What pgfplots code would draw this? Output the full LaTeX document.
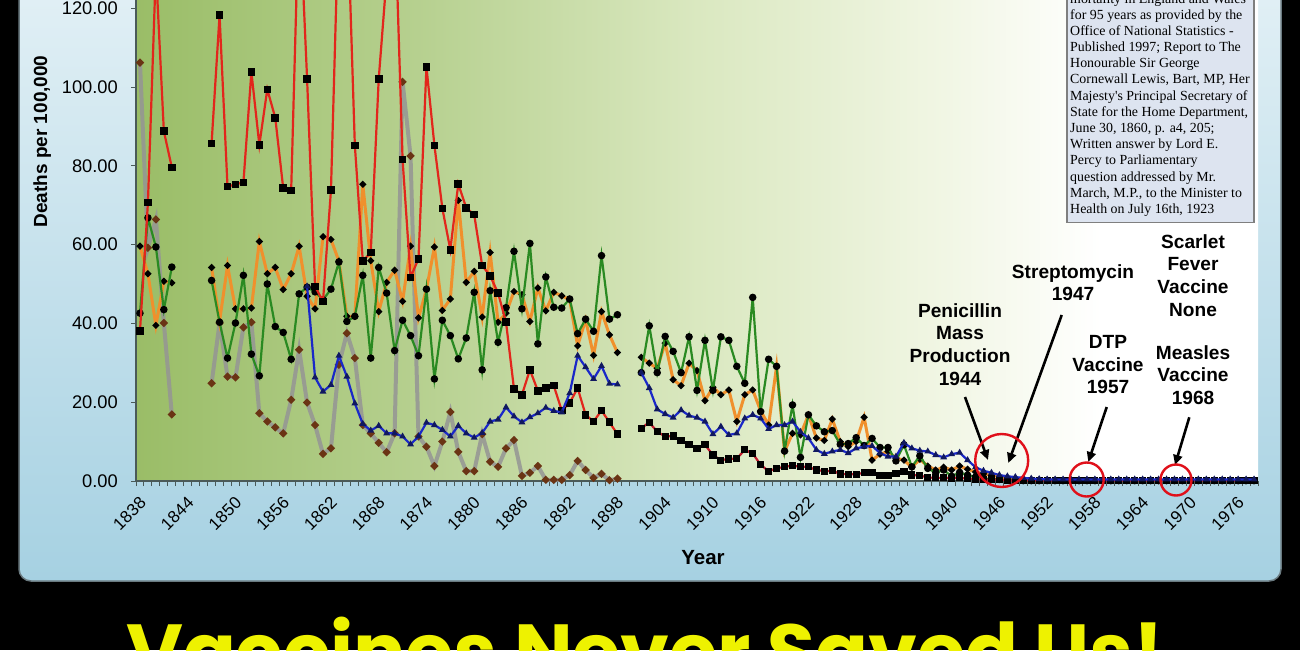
\documentclass[border=0pt]{standalone}
\usepackage{pgfplots}
\pgfplotsset{compat=1.18}
\usepackage{fontspec}
\setmainfont{Liberation Sans}
\newfontfamily\boxfont{Liberation Serif}
\newfontfamily\popfont{Poppins}
\usetikzlibrary{arrows.meta}

\definecolor{redA}{HTML}{E2261C}
\definecolor{redB}{HTML}{C01A2E}
\definecolor{orangeA}{HTML}{F0902C}
\definecolor{greenA}{HTML}{2A8A22}
\definecolor{blueA}{HTML}{1A28C8}
\definecolor{navyA}{HTML}{101860}
\definecolor{grayA}{HTML}{959595}
\definecolor{brownA}{HTML}{6A3414}
\definecolor{axiscol}{HTML}{4A5A58}
\definecolor{g0}{HTML}{9ABD67}
\definecolor{g1}{HTML}{B6D08F}
\definecolor{g2}{HTML}{DAE8C0}
\definecolor{g3}{HTML}{F1F6E4}
\definecolor{frameTop}{HTML}{E4F1F6}
\definecolor{frameBot}{HTML}{A6D1E2}
\definecolor{framecol}{HTML}{6A7A80}
\definecolor{boxfill}{HTML}{DDE4F0}
\definecolor{boxdraw}{HTML}{7F7F7F}
\definecolor{circred}{HTML}{E0101A}
\definecolor{yell}{HTML}{EEF200}

\pgfdeclarehorizontalshading{plotbg}{100bp}{color(0bp)=(g0); color(25bp)=(g0); color(37.5bp)=(g1); color(50bp)=(g2); color(61bp)=(g3); color(68bp)=(white); color(100bp)=(white)}

\newcommand\annfont{\fontsize{19.1}{22}\selectfont\bfseries}
\newcommand\bx{\boxfont\fontsize{13.9}{16}\selectfont}

\begin{document}
\begin{tikzpicture}
\useasboundingbox (0,0) rectangle (1300pt,-650pt);
\clip (0,0) rectangle (1300pt,-650pt);
\begin{scope}[x=1pt,y=-1pt]
\fill[black] (0,0) rectangle (1300,650);
\draw[rounded corners=12pt, line width=1.5pt, draw=framecol, top color=frameTop, bottom color=frameBot] (19,-40) rectangle (1281,581);
\end{scope}

\begin{axis}[
  at={(136pt,-481pt)}, anchor=south west,
  scale only axis, width=1122pt, height=551.6pt,
  xmin=1837.5, xmax=1978.5, ymin=0, ymax=140,
  axis lines=left,
  axis line style={-, draw=axiscol, line width=1.2pt},
  axis background/.style={shading=plotbg},
  xtick={1838,1844,...,1976},
  minor xtick={1837.5,1838.5,...,1978.5},
  ytick={0,20,...,140},
  minor ytick={0,20,...,140},
  major tick length=0pt, minor tick length=5pt, tick align=outside,
  tick style={draw=axiscol, line width=1pt},
  xticklabel style={font=\fontsize{17}{17}\selectfont, inner sep=0pt, anchor=east, xshift=3pt, yshift=-19pt, rotate=45},
  yticklabel style={font=\fontsize{18.3}{18.3}\selectfont, inner sep=0pt, anchor=east, xshift=-18pt},
  x tick label style={/pgf/number format/1000 sep={}},
  y tick label style={/pgf/number format/.cd, fixed, fixed zerofill, precision=2},
  /pgf/number format/assume math mode=true,
  unbounded coords=jump,
  clip mode=individual,
]
% gray series
\addplot[draw=grayA, draw opacity=0.85, line width=4pt, mark=*, mark size=1.4pt, mark options={fill=brownA, draw=brownA, opacity=1}] coordinates {
(1838,106.2)(1839,59.2)(1840,66.4)(1841,40.1)(1842,16.9)(1843,nan)
(1847,24.8)(1848,40.1)(1849,26.5)(1850,26.3)(1851,39.0)(1852,40.3)(1853,17.2)(1854,15.1)(1855,13.6)(1856,12.1)(1857,20.6)(1858,33.3)(1859,19.9)(1860,14.2)(1861,6.9)(1862,8.3)(1863,29.5)(1864,37.5)(1865,31.2)(1866,14.2)(1867,12.1)(1868,9.7)(1869,7.3)(1870,12.1)(1871,101.3)(1872,82.5)(1873,11.3)(1874,8.7)(1875,3.8)(1876,10.0)(1877,17.5)(1878,7.4)(1879,2.5)(1880,2.5)(1881,11.9)(1882,4.9)(1883,3.6)(1884,8.3)(1885,10.4)(1886,1.3)(1887,2.1)(1888,3.8)(1889,0.3)(1890,0.3)(1891,0.3)(1892,1.5)(1893,5.1)(1894,2.8)(1895,0.8)(1896,1.8)(1897,0.2)(1898,0.6)
};
% orange series
\addplot[draw=orangeA, line width=3pt, mark=*, mark size=1.6pt, mark options={fill=black, draw=black}] coordinates {
(1838,59.6)(1839,52.6)(1840,39.5)(1841,50.7)(1842,50.3)(1843,nan)
(1847,54.2)(1848,40.5)(1849,54.7)(1850,43.7)(1851,43.7)(1852,43.9)(1853,60.8)(1854,52.6)(1855,54.2)(1856,48.6)(1857,52.6)(1858,59.6)(1859,46.9)(1860,43.7)(1861,62.0)(1862,61.3)(1863,55.8)(1864,41.8)(1865,41.8)(1866,75.3)(1867,55.9)(1868,43.0)(1869,50.4)(1870,53.5)(1871,45.6)(1872,59.6)(1873,41.4)(1874,48.6)(1875,59.4)(1876,43.3)(1877,46.2)(1878,71.2)(1879,50.4)(1880,53.2)(1881,41.6)(1882,58.0)(1883,40.3)(1884,42.6)(1885,48.1)(1886,47.3)(1887,40.5)(1888,49.0)(1889,43.2)(1890,47.9)(1891,47.0)(1892,46.0)(1893,34.3)(1894,40.9)(1895,31.9)(1896,43.0)(1897,37.1)(1898,32.6)(1899,nan)
(1901,31.4)(1902,29.9)(1903,28.6)(1904,35.0)(1905,25.7)(1906,24.2)(1907,29.9)(1908,28.0)(1909,20.4)(1910,23.8)(1911,21.9)(1912,23.1)(1913,15.1)(1914,21.9)(1915,23.1)(1916,17.8)(1917,14.2)(1918,29.1)(1919,7.5)(1920,12.1)(1921,11.7)(1922,16.8)(1923,10.9)(1924,10.3)(1925,15.7)(1926,10.0)(1927,8.7)(1928,10.0)(1929,16.2)(1930,5.3)(1931,6.8)(1932,7.5)(1933,5.8)(1934,5.3)(1935,3.5)(1936,5.5)(1937,3.8)(1938,2.8)(1939,3.5)(1940,2.8)(1941,3.8)(1942,3.0)(1943,2.3)(1944,1.8)(1945,1.4)(1946,1.1)(1947,0.9)(1948,0.7)(1949,0.5)(1950,0.4)(1951,0.3)(1952,0.25)(1953,0.2)(1954,0.15)(1955,0.15)(1956,0.15)(1957,0.15)(1958,0.15)(1959,0.15)(1960,0.15)(1961,0.15)(1962,0.15)(1963,0.15)(1964,0.15)(1965,0.15)(1966,0.15)(1967,0.15)(1968,0.15)(1969,0.15)(1970,0.15)(1971,0.15)(1972,0.15)(1973,0.15)(1974,0.15)(1975,0.15)(1976,0.15)(1977,0.15)(1978,0.15)
};
% green series
\addplot[draw=greenA, line width=2.2pt, mark=*, mark size=2.6pt, mark options={fill=black, draw=black}] coordinates {
(1838,42.6)(1839,66.8)(1840,59.4)(1841,43.5)(1842,54.3)(1843,nan)
(1847,50.9)(1848,40.3)(1849,31.2)(1850,40.1)(1851,52.2)(1852,32.2)(1853,26.7)(1854,50.0)(1855,39.2)(1856,37.7)(1857,30.9)(1858,47.5)(1859,49.2)(1860,48.0)(1861,46.0)(1862,48.7)(1863,55.6)(1864,40.5)(1865,41.8)(1866,52.2)(1867,31.2)(1868,54.2)(1869,47.7)(1870,33.1)(1871,40.8)(1872,36.9)(1873,31.8)(1874,48.7)(1875,25.9)(1876,40.8)(1877,36.9)(1878,31.0)(1879,36.3)(1880,47.9)(1881,28.2)(1882,48.3)(1883,35.2)(1884,44.0)(1885,58.3)(1886,43.7)(1887,60.3)(1888,34.8)(1889,51.8)(1890,44.1)(1891,43.9)(1892,46.2)(1893,37.4)(1894,41.1)(1895,38.0)(1896,57.2)(1897,41.1)(1898,42.2)(1899,nan)
(1901,27.5)(1902,39.4)(1903,27.5)(1904,36.7)(1905,32.9)(1906,27.5)(1907,36.6)(1908,23.0)(1909,35.7)(1910,23.0)(1911,36.6)(1912,35.7)(1913,29.1)(1914,24.8)(1915,46.6)(1916,17.6)(1917,30.9)(1918,29.1)(1919,7.6)(1920,19.3)(1921,6.0)(1922,16.8)(1923,14.0)(1924,12.5)(1925,12.8)(1926,9.3)(1927,9.5)(1928,11.0)(1929,9.0)(1930,10.8)(1931,8.5)(1932,8.5)(1933,5.1)(1934,9.2)(1935,3.6)(1936,6.4)(1937,3.2)(1938,2.1)(1939,2.8)(1940,1.2)(1941,2.2)(1942,1.5)(1943,1.0)(1944,0.7)(1945,0.5)(1946,0.4)(1947,0.3)(1948,0.2)(1949,0.1)(1950,0.1)(1951,0.1)(1952,0.1)(1953,0.1)(1954,0.1)(1955,0.1)(1956,0.1)(1957,0.1)(1958,0.1)(1959,0.1)(1960,0.1)(1961,0.1)(1962,0.1)(1963,0.1)(1964,0.1)(1965,0.1)(1966,0.1)(1967,0.1)(1968,0.1)(1969,0.1)(1970,0.1)(1971,0.1)(1972,0.1)(1973,0.1)(1974,0.1)(1975,0.1)(1976,0.1)(1977,0.1)(1978,0.1)
};
% red series (19th century)
\addplot[draw=redA, line width=2.2pt, mark=square*, mark size=2.7pt, mark options={fill=black, draw=black}] coordinates {
(1838,38.0)(1839,70.7)(1840,130)(1841,88.8)(1842,79.6)(1843,nan)
(1847,85.7)(1848,118.2)(1849,74.7)(1850,75.3)(1851,75.8)(1852,103.8)(1853,85.3)(1854,99.4)(1855,92.2)(1856,74.3)(1857,73.7)(1858,148)(1859,102.1)(1860,49.4)(1861,45.6)(1862,73.8)(1863,146)(1864,149)(1865,85.2)(1866,55.8)(1867,58.0)(1868,102.0)(1869,128)(1870,146)(1871,81.6)(1872,51.7)(1873,56.4)(1874,105.1)(1875,85.2)(1876,69.2)(1877,58.7)(1878,75.4)(1879,69.3)(1880,67.6)(1881,54.7)(1882,52.1)(1883,47.7)(1884,40.3)(1885,23.4)(1886,21.9)(1887,28.2)(1888,22.9)(1889,23.6)(1890,24.2)(1891,17.9)(1892,19.8)(1893,23.6)(1894,16.8)(1895,15.1)(1896,17.9)(1897,14.9)(1898,11.9)
};
% red series (20th century)
\addplot[draw=redB, line width=2.2pt, mark=square*, mark size=2.5pt, mark options={fill=black, draw=black}] coordinates {
(1901,13.4)(1902,14.9)(1903,12.5)(1904,11.3)(1905,11.4)(1906,10.2)(1907,9.3)(1908,8.3)(1909,9.2)(1910,6.6)(1911,5.3)(1912,5.6)(1913,5.7)(1914,7.9)(1915,7.0)(1916,4.1)(1917,2.5)(1918,3.2)(1919,3.6)(1920,3.9)(1921,3.6)(1922,3.6)(1923,2.8)(1924,2.5)(1925,2.6)(1926,1.8)(1927,1.7)(1928,1.7)(1929,2.1)(1930,2.1)(1931,1.4)(1932,1.4)(1933,2.0)(1934,2.5)(1935,1.5)(1936,1.4)(1937,0.9)(1938,0.8)(1939,0.8)(1940,0.7)(1941,0.8)(1942,0.6)(1943,0.5)(1944,0.4)(1945,0.3)(1946,0.3)(1947,0.2)(1948,0.1)(1949,0.1)(1950,0.1)(1951,0.1)(1952,0.1)(1953,0.1)(1954,0.1)(1955,0.1)(1956,0.1)(1957,0.1)(1958,0.1)(1959,0.1)(1960,0.1)(1961,0.1)(1962,0.1)(1963,0.1)(1964,0.1)(1965,0.1)(1966,0.1)(1967,0.1)(1968,0.1)(1969,0.1)(1970,0.1)(1971,0.1)(1972,0.1)(1973,0.1)(1974,0.1)(1975,0.1)(1976,0.1)(1977,0.1)(1978,0.1)
};
% blue series
\addplot[draw=blueA, line width=2.2pt, mark=triangle*, mark size=1.8pt, mark options={fill=navyA, draw=navyA}] coordinates {
(1859,49.4)(1860,26.3)(1861,22.7)(1862,24.4)(1863,31.8)(1864,26.5)(1865,19.7)(1866,14.5)(1867,12.8)(1868,14.0)(1869,12.1)(1870,12.1)(1871,11.3)(1872,9.3)(1873,11.3)(1874,14.8)(1875,14.2)(1876,13.0)(1877,11.3)(1878,14.0)(1879,12.1)(1880,11.0)(1881,12.2)(1882,15.1)(1883,15.6)(1884,18.7)(1885,16.4)(1886,14.9)(1887,16.2)(1888,17.2)(1889,18.6)(1890,17.8)(1891,17.4)(1892,22.3)(1893,31.8)(1894,28.9)(1895,25.9)(1896,29.2)(1897,24.7)(1898,24.5)(1899,nan)
(1901,27.5)(1902,23.6)(1903,18.2)(1904,17.0)(1905,16.1)(1906,18.0)(1907,16.6)(1908,16.1)(1909,15.1)(1910,11.9)(1911,13.8)(1912,11.7)(1913,12.1)(1914,15.9)(1915,16.8)(1916,15.9)(1917,13.2)(1918,14.2)(1919,14.2)(1920,15.1)(1921,12.5)(1922,10.9)(1923,7.9)(1924,6.9)(1925,7.5)(1926,7.9)(1927,7.1)(1928,8.3)(1929,8.7)(1930,8.9)(1931,7.1)(1932,6.2)(1933,6.2)(1934,9.7)(1935,8.3)(1936,7.7)(1937,7.5)(1938,6.6)(1939,6.0)(1940,6.8)(1941,7.2)(1942,5.3)(1943,3.5)(1944,2.6)(1945,2.1)(1946,1.5)(1947,1.2)(1948,1.0)(1949,0.8)(1950,0.6)(1951,0.5)(1952,0.4)(1953,0.4)(1954,0.4)(1955,0.4)(1956,0.4)(1957,0.4)(1958,0.4)(1959,0.4)(1960,0.4)(1961,0.4)(1962,0.4)(1963,0.4)(1964,0.4)(1965,0.4)(1966,0.4)(1967,0.4)(1968,0.4)(1969,0.4)(1970,0.4)(1971,0.4)(1972,0.4)(1973,0.4)(1974,0.4)(1975,0.4)(1976,0.4)(1977,0.4)(1978,0.4)
};
\end{axis}

\begin{scope}[x=1pt,y=-1pt]
% source box
\filldraw[fill=boxfill, draw=boxdraw, line width=1.2pt] (1067,-10) rectangle (1254,222.5);
\node[anchor=base west, inner sep=0pt, font=\bx] at (1070,3.1) {mortality in England and Wales};
\node[anchor=base west, inner sep=0pt, font=\bx] at (1070,19.3) {for 95 years as provided by the};
\node[anchor=base west, inner sep=0pt, font=\bx] at (1070,35.5) {Office of National Statistics -};
\node[anchor=base west, inner sep=0pt, font=\bx] at (1070,51.6) {Published 1997; Report to The};
\node[anchor=base west, inner sep=0pt, font=\bx] at (1070,67.8) {Honourable Sir George};
\node[anchor=base west, inner sep=0pt, font=\bx] at (1070,84.0) {Cornewall Lewis, Bart, MP, Her};
\node[anchor=base west, inner sep=0pt, font=\bx] at (1070,100.1) {Majesty's Principal Secretary of};
\node[anchor=base west, inner sep=0pt, font=\bx] at (1070,116.3) {State for the Home Department,};
\node[anchor=base west, inner sep=0pt, font=\bx] at (1070,132.5) {June 30, 1860, p. a4, 205;};
\node[anchor=base west, inner sep=0pt, font=\bx] at (1070,148.6) {Written answer by Lord E.};
\node[anchor=base west, inner sep=0pt, font=\bx] at (1070,164.8) {Percy to Parliamentary};
\node[anchor=base west, inner sep=0pt, font=\bx] at (1070,181.0) {question addressed by Mr.};
\node[anchor=base west, inner sep=0pt, font=\bx] at (1070,197.1) {March, M.P., to the Minister to};
\node[anchor=base west, inner sep=0pt, font=\bx] at (1070,213.3) {Health on July 16th, 1923};

% axis titles
\node[rotate=90, anchor=base, inner sep=0pt, font=\fontsize{19}{19}\selectfont\bfseries] at (47,141.5) {Deaths per 100,000};
\node[anchor=base, inner sep=0pt, font=\fontsize{20.5}{20.5}\selectfont\bfseries] at (703,564) {Year};

% annotations
\node[anchor=base, inner sep=0pt, font=\annfont] at (960,317.3) {Penicillin};
\node[anchor=base, inner sep=0pt, font=\annfont] at (960,339.5) {Mass};
\node[anchor=base, inner sep=0pt, font=\annfont] at (960,362.5) {Production};
\node[anchor=base, inner sep=0pt, font=\annfont] at (960,385) {1944};
\node[anchor=base, inner sep=0pt, font=\annfont] at (1073,278.3) {Streptomycin};
\node[anchor=base, inner sep=0pt, font=\annfont] at (1073,300.7) {1947};
\node[anchor=base, inner sep=0pt, font=\annfont] at (1108,348.3) {DTP};
\node[anchor=base, inner sep=0pt, font=\annfont] at (1108,371) {Vaccine};
\node[anchor=base, inner sep=0pt, font=\annfont] at (1108,393.3) {1957};
\node[anchor=base, inner sep=0pt, font=\annfont] at (1193,248.3) {Scarlet};
\node[anchor=base, inner sep=0pt, font=\annfont] at (1193,270.7) {Fever};
\node[anchor=base, inner sep=0pt, font=\annfont] at (1193,293.3) {Vaccine};
\node[anchor=base, inner sep=0pt, font=\annfont] at (1193,316) {None};
\node[anchor=base, inner sep=0pt, font=\annfont] at (1193,359.3) {Measles};
\node[anchor=base, inner sep=0pt, font=\annfont] at (1193,381.7) {Vaccine};
\node[anchor=base, inner sep=0pt, font=\annfont] at (1193,404) {1968};

% arrows
\draw[line width=2.6pt, -{Triangle[length=10pt,width=9pt]}] (965,397) -- (988,460);
\draw[line width=2.6pt, -{Triangle[length=10pt,width=9pt]}] (1061.7,315) -- (1008.3,463);
\draw[line width=2.6pt, -{Triangle[length=10pt,width=9pt]}] (1106.7,407) -- (1088.3,462);
\draw[line width=2.6pt, -{Triangle[length=10pt,width=9pt]}] (1189.3,417.3) -- (1175,465);

% circles
\draw[circred, line width=2.4pt] (1001.7,460.5) circle[radius=26.5pt];
\draw[circred, line width=2.4pt] (1086.7,479.5) circle[radius=17pt];
\draw[circred, line width=2.4pt] (1176,480) circle[radius=15.5pt];

% caption
\node[anchor=base, inner sep=0pt, text=yell, font=\popfont\bfseries\fontsize{78}{78}\selectfont] at (645,679) {Vaccines Never Saved Us!};
\end{scope}
\end{tikzpicture}
\end{document}
